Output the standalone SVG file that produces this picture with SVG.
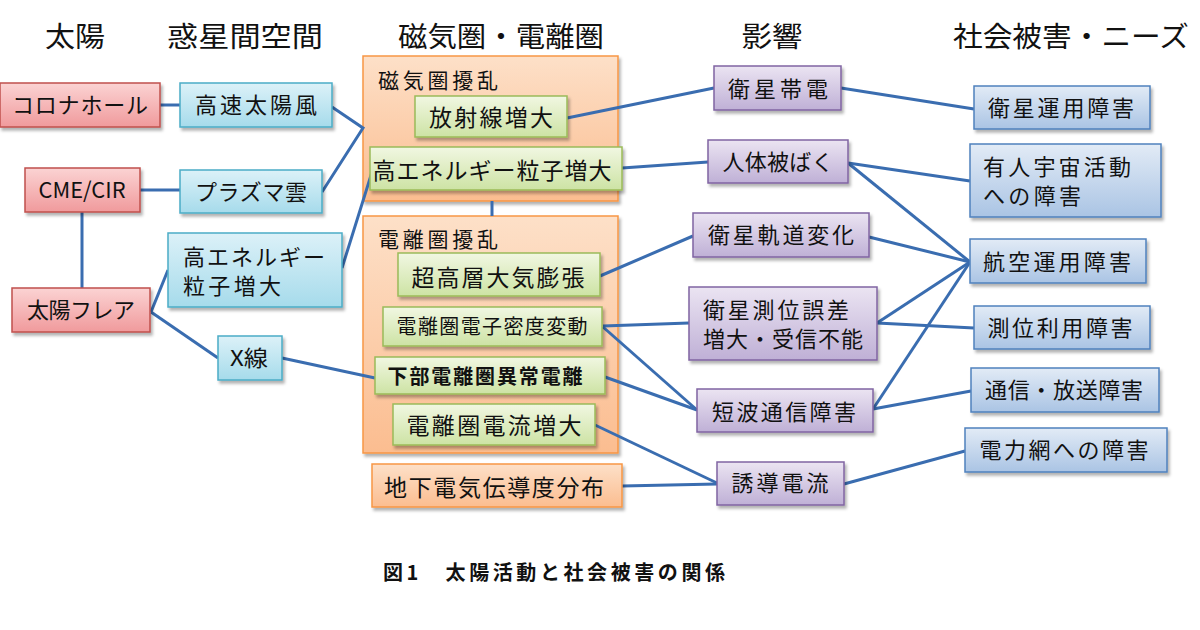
<svg xmlns="http://www.w3.org/2000/svg" width="1200" height="630" viewBox="0 0 1200 630">
<defs>
<linearGradient id="gRed" x1="0" y1="0" x2="0" y2="1"><stop offset="0" stop-color="#fbd3d3"/><stop offset="1" stop-color="#f09a9c"/></linearGradient>
<linearGradient id="gCyan" x1="0" y1="0" x2="0" y2="1"><stop offset="0" stop-color="#dcf1f8"/><stop offset="1" stop-color="#a6dbeb"/></linearGradient>
<linearGradient id="gOrange" x1="0" y1="0" x2="0" y2="1"><stop offset="0" stop-color="#fde0c8"/><stop offset="1" stop-color="#fbbd90"/></linearGradient>
<linearGradient id="gGreen" x1="0" y1="0" x2="0" y2="1"><stop offset="0" stop-color="#f1f7e2"/><stop offset="1" stop-color="#cde3a4"/></linearGradient>
<linearGradient id="gPurple" x1="0" y1="0" x2="0" y2="1"><stop offset="0" stop-color="#ebe4f2"/><stop offset="1" stop-color="#bfb0d6"/></linearGradient>
<linearGradient id="gBlue" x1="0" y1="0" x2="0" y2="1"><stop offset="0" stop-color="#e2ebf6"/><stop offset="1" stop-color="#aac4e4"/></linearGradient>
<filter id="sh" x="-10%" y="-10%" width="130%" height="140%"><feDropShadow dx="2" dy="3" stdDeviation="1.8" flood-color="#000" flood-opacity="0.3"/></filter>
</defs>
<style>
text{font-family:"Noto Sans CJK JP","Noto Sans",sans-serif;fill:#111}
.hd{font-size:28px}
.t{font-size:22px}
.tm{font-size:23px}
.ts{font-size:20px}
.tt{font-size:21px}
.b{font-weight:bold}
.red{fill:url(#gRed);stroke:#c0504d;stroke-width:1.5}
.cyan{fill:url(#gCyan);stroke:#4bacc6;stroke-width:1.5}
.org{fill:url(#gOrange);stroke:#f79646;stroke-width:1.5}
.grn{fill:url(#gGreen);stroke:#9bbb59;stroke-width:1.5}
.pur{fill:url(#gPurple);stroke:#8064a2;stroke-width:1.5}
.blu{fill:url(#gBlue);stroke:#4f81bd;stroke-width:1.5}
rect{filter:url(#sh)}
#connectors path{fill:none;stroke:#3a6db0;stroke-width:3}
</style>
<rect width="1200" height="630" fill="#ffffff" style="filter:none"/>

<g id="headers">
<text class="hd" x="75" y="47" text-anchor="middle" textLength="60" lengthAdjust="spacingAndGlyphs">太陽</text>
<text class="hd" x="245" y="47" text-anchor="middle" textLength="156" lengthAdjust="spacingAndGlyphs">惑星間空間</text>
<text class="hd" x="501" y="47" text-anchor="middle" textLength="206" lengthAdjust="spacingAndGlyphs">磁気圏・電離圏</text>
<text class="hd" x="772" y="47" text-anchor="middle" textLength="61" lengthAdjust="spacingAndGlyphs">影響</text>
<text class="hd" x="1071" y="47" text-anchor="middle" textLength="236" lengthAdjust="spacingAndGlyphs">社会被害・ニーズ</text>
</g>

<g id="magnetosphere">
<rect class="org" x="363" y="56" width="255" height="145"/>
<text class="tt" x="378" y="88" textLength="120" lengthAdjust="spacing">磁気圏擾乱</text>
</g>
<g id="ionosphere">
<rect class="org" x="363" y="216" width="255" height="237"/>
<text class="tt" x="378" y="247" textLength="120" lengthAdjust="spacing">電離圏擾乱</text>
</g>

<g id="connectors">
<path d="M160,105 L180,105"/>
<path d="M140,190 L180,190"/>
<path d="M82,212 L82,288"/>
<path d="M151,312 L168,270"/>
<path d="M151,312 L218,358"/>
<path d="M282,358 L375,378"/>
<path d="M332,107 L363,128 L322,192"/>
<path d="M342,268 L372,172"/>
<path d="M492,201 L492,216"/>
<path d="M567,118 L714,88"/>
<path d="M622,168 L708,162"/>
<path d="M600,276 L693,236"/>
<path d="M603,326 L689,323"/>
<path d="M603,327 L697,410"/>
<path d="M605,377 L697,410"/>
<path d="M595,425 L717,483"/>
<path d="M622,486 L717,484"/>
<path d="M841,88 L974,109"/>
<path d="M848,163 L970,181"/>
<path d="M848,163 L970,262"/>
<path d="M869,237 L970,262"/>
<path d="M877,323 L970,262"/>
<path d="M877,323 L974,328"/>
<path d="M873,409 L970,262"/>
<path d="M873,409 L971,391"/>
<path d="M844,484 L965,451"/>
</g>

<g id="n-coronal-hole"><rect class="red" x="0" y="83" width="160" height="44"/><text class="t" x="80" y="113" text-anchor="middle" textLength="136" lengthAdjust="spacing">コロナホール</text></g>
<g id="n-cme"><rect class="red" x="25" y="168" width="115" height="44"/><text class="t" x="82" y="198" text-anchor="middle" textLength="87" lengthAdjust="spacingAndGlyphs">CME/CIR</text></g>
<g id="n-flare"><rect class="red" x="12" y="288" width="138" height="44"/><text class="t" x="81" y="318" text-anchor="middle" textLength="108" lengthAdjust="spacing">太陽フレア</text></g>

<g id="n-solar-wind"><rect class="cyan" x="180" y="83" width="152" height="44"/><text class="t" x="256" y="113" text-anchor="middle" textLength="122" lengthAdjust="spacing">高速太陽風</text></g>
<g id="n-plasma"><rect class="cyan" x="180" y="170" width="142" height="43"/><text class="t" x="251" y="200" text-anchor="middle" textLength="112" lengthAdjust="spacing">プラズマ雲</text></g>
<g id="n-sep"><rect class="cyan" x="168" y="233" width="174" height="74"/><text class="t" x="183" y="265" textLength="142" lengthAdjust="spacing">高エネルギー</text><text class="t" x="183" y="294" textLength="98" lengthAdjust="spacing">粒子増大</text></g>
<g id="n-xray"><rect class="cyan" x="218" y="336" width="64" height="44"/><text class="t" x="249" y="366" text-anchor="middle" textLength="38" lengthAdjust="spacingAndGlyphs">X線</text></g>

<g id="n-radiation"><rect class="grn" x="415" y="96" width="152" height="41"/><text class="tm" x="491" y="126" text-anchor="middle" textLength="124" lengthAdjust="spacing">放射線増大</text></g>
<g id="n-hep"><rect class="grn" x="370" y="147" width="252" height="43"/><text class="tm" x="492" y="179" text-anchor="middle" textLength="239" lengthAdjust="spacing">高エネルギー粒子増大</text></g>
<g id="n-thermo"><rect class="grn" x="398" y="253" width="202" height="43"/><text class="tm" x="498" y="286" text-anchor="middle" textLength="173" lengthAdjust="spacing">超高層大気膨張</text></g>
<g id="n-tec"><rect class="grn" x="383" y="307" width="219" height="39"/><text class="ts" x="492" y="334" text-anchor="middle" textLength="191" lengthAdjust="spacing">電離圏電子密度変動</text></g>
<g id="n-dlayer"><rect class="grn" x="375" y="357" width="230" height="37"/><text class="ts b" x="485" y="384" text-anchor="middle" textLength="195" lengthAdjust="spacing">下部電離圏異常電離</text></g>
<g id="n-current"><rect class="grn" x="393" y="404" width="202" height="41"/><text class="tm" x="494" y="434" text-anchor="middle" textLength="175" lengthAdjust="spacing">電離圏電流増大</text></g>
<g id="n-ground"><rect class="org" x="372" y="464" width="250" height="43"/><text class="tm" x="494" y="496" text-anchor="middle" textLength="220" lengthAdjust="spacing">地下電気伝導度分布</text></g>

<g id="n-charging"><rect class="pur" x="714" y="66" width="127" height="44"/><text class="t" x="778" y="97" text-anchor="middle" textLength="100" lengthAdjust="spacing">衛星帯電</text></g>
<g id="n-exposure"><rect class="pur" x="708" y="140" width="140" height="43"/><text class="t" x="778" y="170" text-anchor="middle" textLength="111" lengthAdjust="spacing">人体被ばく</text></g>
<g id="n-orbit"><rect class="pur" x="693" y="213" width="176" height="44"/><text class="t" x="781" y="243" text-anchor="middle" textLength="146" lengthAdjust="spacing">衛星軌道変化</text></g>
<g id="n-gnss"><rect class="pur" x="689" y="287" width="188" height="73"/><text class="t" x="703" y="318" textLength="146" lengthAdjust="spacing">衛星測位誤差</text><text class="t" x="703" y="347" textLength="160" lengthAdjust="spacing">増大・受信不能</text></g>
<g id="n-hf"><rect class="pur" x="697" y="389" width="176" height="43"/><text class="t" x="784" y="420" text-anchor="middle" textLength="144" lengthAdjust="spacing">短波通信障害</text></g>
<g id="n-gic"><rect class="pur" x="717" y="462" width="127" height="43"/><text class="t" x="780" y="491" text-anchor="middle" textLength="97" lengthAdjust="spacing">誘導電流</text></g>

<g id="n-sat-ops"><rect class="blu" x="974" y="86" width="176" height="43"/><text class="t" x="1061" y="116" text-anchor="middle" textLength="146" lengthAdjust="spacing">衛星運用障害</text></g>
<g id="n-human"><rect class="blu" x="970" y="144" width="191" height="73"/><text class="t" x="983" y="175" textLength="148" lengthAdjust="spacing">有人宇宙活動</text><text class="t" x="983" y="204" textLength="98" lengthAdjust="spacing">への障害</text></g>
<g id="n-aviation"><rect class="blu" x="970" y="239" width="176" height="44"/><text class="t" x="1057" y="270" text-anchor="middle" textLength="148" lengthAdjust="spacing">航空運用障害</text></g>
<g id="n-positioning"><rect class="blu" x="974" y="306" width="176" height="43"/><text class="t" x="1060" y="336" text-anchor="middle" textLength="145" lengthAdjust="spacing">測位利用障害</text></g>
<g id="n-comm"><rect class="blu" x="971" y="368" width="188" height="44"/><text class="t" x="1064" y="398" text-anchor="middle" textLength="158" lengthAdjust="spacing">通信・放送障害</text></g>
<g id="n-grid"><rect class="blu" x="965" y="428" width="202" height="44"/><text class="t" x="1064" y="458" text-anchor="middle" textLength="169" lengthAdjust="spacing">電力網への障害</text></g>

<text class="b" x="554" y="580" text-anchor="middle" font-size="20" textLength="342" lengthAdjust="spacing">図1　太陽活動と社会被害の関係</text>
</svg>
